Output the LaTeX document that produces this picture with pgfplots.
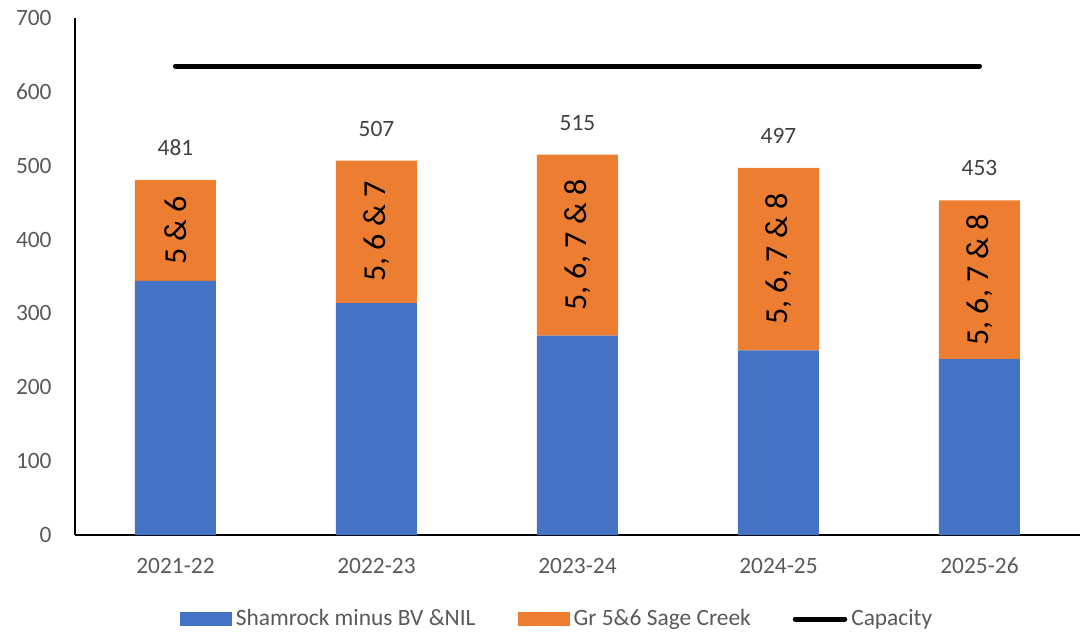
\documentclass[border=0pt]{standalone}
\usepackage{fontspec}
\setmainfont{Carlito}
\usepackage{pgfplots}
\usepackage{pgfplotstable}
\pgfplotsset{compat=1.18}
\definecolor{barblue}{HTML}{4472C4}
\definecolor{barorange}{HTML}{ED7D31}
\definecolor{ticktext}{HTML}{595959}
\definecolor{labeltext}{HTML}{404040}
\pgfplotsset{
  boxlegend/.style={legend image code/.code={\fill[##1] (0pt,-3.5pt) rectangle (26pt,3.5pt);}},
  linelegend/.style={legend image code/.code={\draw[##1] (1.25pt,0pt) -- (26pt,0pt);}},
}
\pgfplotstableread{
x blue orange total label
0 344 137 481 {5 \& 6}
1 314 193 507 {5, 6 \& 7}
2 270 245 515 {5, 6, 7 \& 8}
3 250 247 497 {5, 6, 7 \& 8}
4 238 215 453 {5, 6, 7 \& 8}
}\datatable
\pgfplotstableread{
x cap
0 635
4 635
}\captable
\newcommand{\tickfont}{\fontsize{11.7}{14}\selectfont}
\begin{document}
\begin{tikzpicture}
\useasboundingbox (-37.5pt,-48.5pt) rectangle (504pt,267.5pt);
\begin{axis}[
  at={(0,0)}, anchor=south west,
  scale only axis, width=502.5pt, height=258.5pt,
  ybar stacked, bar width=40.5pt,
  xmin=-0.5, xmax=4.5, ymin=0, ymax=700,
  xtick={0,1,2,3,4},
  xticklabels={2021-22,2022-23,2023-24,2024-25,2025-26},
  ytick={0,100,...,700},
  /pgf/number format/assume math mode=true,
  axis lines=left,
  axis line style={-, black, line width=0.8pt},
  major tick length=0pt,
  tick style={draw=none},
  yticklabel style={font=\tickfont, text=ticktext, anchor=east, inner sep=0pt, xshift=-11.5pt},
  xticklabel style={font=\tickfont, text=ticktext, anchor=base, inner sep=0pt, yshift=-19pt},
  legend style={at={(0.4806,-0.1625)}, anchor=center, legend columns=3, draw=none,
    font=\tickfont, text=ticktext, fill=none,
    /tikz/every even column/.append style={column sep=19pt}},
  legend cell align=left,
]
\addplot[boxlegend, fill=barblue, draw=none] table[x=x,y=blue]{\datatable};
\addlegendentry{Shamrock minus BV \&NIL}
\addplot[boxlegend, fill=barorange, draw=none] table[x=x,y=orange]{\datatable};
\addlegendentry{Gr 5\&6 Sage Creek}
\addlegendimage{linelegend, black, line width=2.5pt, line cap=round}
\addlegendentry{Capacity}
\end{axis}
\begin{axis}[
  at={(0,0)}, anchor=south west,
  scale only axis, width=502.5pt, height=258.5pt,
  xmin=-0.5, xmax=4.5, ymin=0, ymax=700,
  hide axis, clip=false,
]
\addplot[black, line width=2.5pt, line cap=round] table[x=x,y=cap]{\captable};
\addplot[draw=none, mark=none, nodes near coords, point meta=explicit symbolic,
  every node near coord/.append style={anchor=center, yshift=16pt, font=\tickfont, text=labeltext}]
  table[x=x, y=total, meta=total]{\datatable};
\addplot[draw=none, mark=none, nodes near coords, point meta=explicit symbolic,
  every node near coord/.append style={rotate=90, anchor=center, font=\fontsize{16}{19}\selectfont, text=black}]
  table[x=x, y expr=\thisrow{blue}+0.5*\thisrow{orange}, meta=label]{\datatable};
\end{axis}
\end{tikzpicture}
\end{document}
